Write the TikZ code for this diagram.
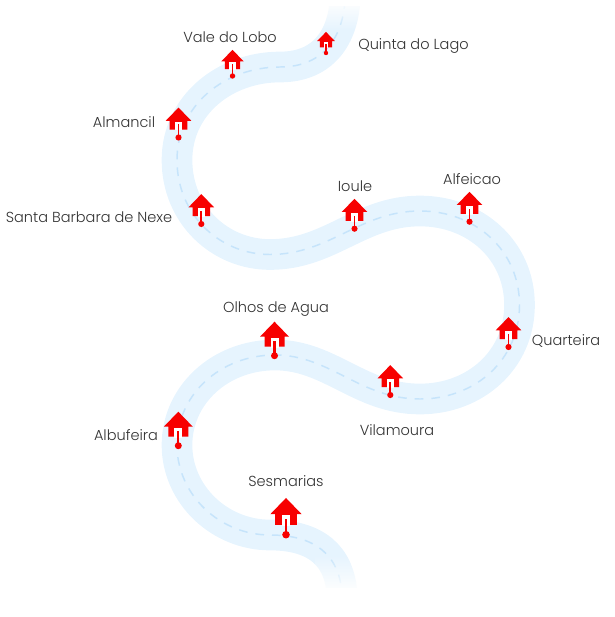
\documentclass[tikz,border=0pt]{standalone}
\usepackage{fontspec}
\setmainfont[UprightFont=* Light]{Poppins}
\usetikzlibrary{fadings}
\definecolor{bandblue}{HTML}{E6F4FE}
\definecolor{dashblue}{HTML}{C6E4FB}
\definecolor{housered}{HTML}{F70000}
\definecolor{labelgray}{HTML}{333333}
\tikzset{
  place/.style={text=labelgray, font=\fontsize{10.9}{12}\selectfont, inner sep=0, anchor=base},
  house/.pic={
    \fill[housered] (0,-34)--(14.5,-19)--(10,-19)--(10,-9)--(-10,-9)--(-10,-19)--(-14.5,-19)--cycle;
    \fill[white] (-4,-18) rectangle (4,-8);
    \fill[housered] (-1.1,-15) rectangle (1.1,0);
    \fill[housered] (0,0) circle (3.5);
  }
}
\newcommand{\roadpath}{(345,0) .. controls (343,35) and (325,67) .. (280,67)
  .. controls (225,67) and (177,105) .. (177,160)
  .. controls (177,215) and (220,254.5) .. (270,254.5)
  .. controls (330,254.5) and (360,211) .. (420,211)
  .. controls (475,211) and (519.5,250) .. (519.5,305)
  .. controls (519.5,360) and (475,399) .. (420,399)
  .. controls (360,399) and (330,355) .. (275,355)
  .. controls (220,355) and (177,395) .. (177,445)
  .. controls (177,495) and (220,535) .. (270,535)
  .. controls (315,535) and (340,555) .. (342,595)}
\begin{document}
\begin{tikzpicture}[x=.75pt, y=-.75pt]
\useasboundingbox (0,0) rectangle (614,617);
% road
\draw[bandblue, line width=23pt] \roadpath;
\draw[dashblue, line width=1.1pt, dash pattern=on 6.5pt off 6pt] \roadpath;
\fill[white] (315,-2) rectangle (375,6);
\fill[white, path fading=south] (315,0) rectangle (375,30);
\fill[white, path fading=north] (315,555) rectangle (375,592);
\fill[white] (315,588) rectangle (375,600);
% houses
\foreach \x/\y/\s in {326/53/.62, 232.5/76/.77, 178.5/137.5/.88, 201.3/224/.88, 354.5/228.7/.88,
  469.5/221.7/.88, 508.5/347/.88, 390.3/395/.88, 274.5/355.7/1, 178.3/445.7/1, 286/534.7/1.08} {
  \pic[scale=\s] at (\x,\y) {house};
}
% labels
\node[place] (valedolobo) at (230,43) {Vale do Lobo};
\node[place] (quinta) at (413.5,50) {Quinta do Lago};
\node[place] (almancil) at (124,127) {Almancil};
\node[place] (santabarbara) at (89,222) {Santa Barbara de Nexe};
\node[place] (ioule) at (355,191) {Ioule};
\node[place] (alfeicao) at (472,184) {Alfeicao};
\node[place] (quarteira) at (566,345) {Quarteira};
\node[place] (vilamoura) at (397,435) {Vilamoura};
\node[place] (olhos) at (276,312) {Olhos de Agua};
\node[place] (albufeira) at (126,440) {Albufeira};
\node[place] (sesmarias) at (286,486) {Sesmarias};
\end{tikzpicture}
\end{document}
